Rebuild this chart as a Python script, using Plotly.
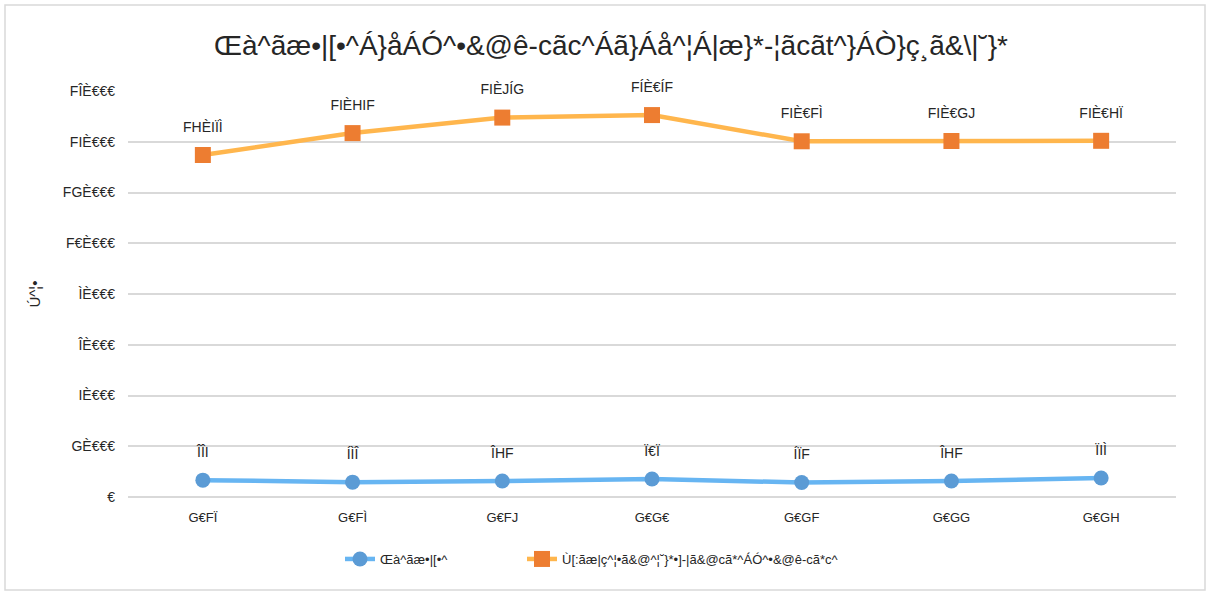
import plotly.graph_objects as go

# Glyphs as they appear in the reference (scrambled font encoding)
DIGITS = {"0": "€", "1": "F", "2": "G", "3": "H", "4": "I", "5": "Í",
          "6": "Î", "7": "Ï", "8": "Ì", "9": "J", ",": "È"}

def glyphs(s):
    return "".join(DIGITS.get(c, c) for c in s)

years = ["2017", "2018", "2019", "2020", "2021", "2022", "2023"]
series1_name = "Œà^ãæ•|[•^"
series2_name = "Ù[:ãæ|ç^¦•ã&@^¦˘}*•]-|ã&@cã*^ÁÓ^•&@ê-cã*c^"
title_text = "Œà^ãæ•|[•^Á}åÁÓ^•&@ê-cãc^Áã}Áå^¦Á|æ}*-¦ãcãt^}ÁÒ}ç¸ã&\\|˘}*"
y_title = "Ú^¦•"

series1 = [664, 586, 631, 707, 571, 631, 748]
series2 = [13478, 14341, 14952, 15051, 14018, 14029, 14037]

y_ticks = [0, 2000, 4000, 6000, 8000, 10000, 12000, 14000, 16000]

x_labels = [glyphs(y) for y in years]
lab1 = [glyphs(f"{v:,}") for v in series1]
lab2 = [glyphs(f"{v:,}") for v in series2]
y_ticktext = [glyphs(f"{v:,}") for v in y_ticks]

FONT = "Liberation Sans, Arial, sans-serif"
TXT = "#262626"

fig = go.Figure()
fig.add_trace(go.Scatter(
    x=x_labels, y=series1, name=series1_name, mode="lines+markers",
    line=dict(color="#67B5F2", width=4.5),
    marker=dict(symbol="circle", size=15, color="#5B9BD5"),
    legend="legend",
))
fig.add_trace(go.Scatter(
    x=x_labels, y=series2, name=series2_name, mode="lines+markers",
    line=dict(color="#FFB64D", width=4.5),
    marker=dict(symbol="square", size=16, color="#ED7D31"),
    legend="legend2",
))
# data labels (invisible larger markers push the labels a bit higher)
for ys, labs, sz in [(series1, lab1, 30), (series2, lab2, 30)]:
    fig.add_trace(go.Scatter(
        x=x_labels, y=ys, mode="markers+text", text=labs,
        textposition="top center", showlegend=False, hoverinfo="skip",
        marker=dict(size=sz, opacity=0), cliponaxis=False,
        textfont=dict(size=14, color=TXT, family=FONT),
    ))

L, R, T, B = 128, 37, 91, 95
W, H = 1213, 592
pw, ph = W - L - R, H - T - B
leg_y = -(559 - (T + ph)) / ph

fig.update_layout(
    width=W, height=H,
    margin=dict(l=L, r=R, t=T, b=B, pad=0),
    paper_bgcolor="white", plot_bgcolor="white",
    font=dict(family=FONT, size=13, color=TXT),
    title=dict(text=title_text, x=611 / W, xanchor="center",
               y=1 - 45 / H, yanchor="middle",
               font=dict(size=28, color=TXT, family=FONT)),
    showlegend=True,
    legend=dict(orientation="h", x=(340 - L) / pw, xanchor="left",
                y=leg_y, yanchor="middle", font=dict(size=13, family=FONT)),
    legend2=dict(orientation="h", x=(522 - L) / pw, xanchor="left",
                 y=leg_y, yanchor="middle", font=dict(size=13, family=FONT)),
    xaxis=dict(type="category", range=[-0.5, 6.5], showgrid=False,
               showline=False, ticks="", tickfont=dict(size=13),
               ticklabelstandoff=11),
    yaxis=dict(range=[0, 16000], tickvals=y_ticks, ticktext=y_ticktext,
               showgrid=True, gridcolor="#D9D9D9", gridwidth=1.5,
               zeroline=True, zerolinecolor="#D9D9D9", zerolinewidth=1.5,
               showline=False, ticks="", tickfont=dict(size=14),
               ticklabelstandoff=12,
               title=dict(text=y_title, font=dict(size=15), standoff=18)),
    shapes=[dict(type="rect", xref="paper", yref="paper",
                 x0=(5 - L) / pw, x1=(1205 - L) / pw,
                 y0=(T + ph - 590) / ph, y1=(T + ph - 5) / ph,
                 line=dict(color="#D9D9D9", width=1.5), fillcolor="rgba(0,0,0,0)",
                 layer="below")],
)

fig.write_html("out.html", config={"displayModeBar": False},
               post_script="document.body.style.margin='0';document.body.style.overflow='hidden';")
